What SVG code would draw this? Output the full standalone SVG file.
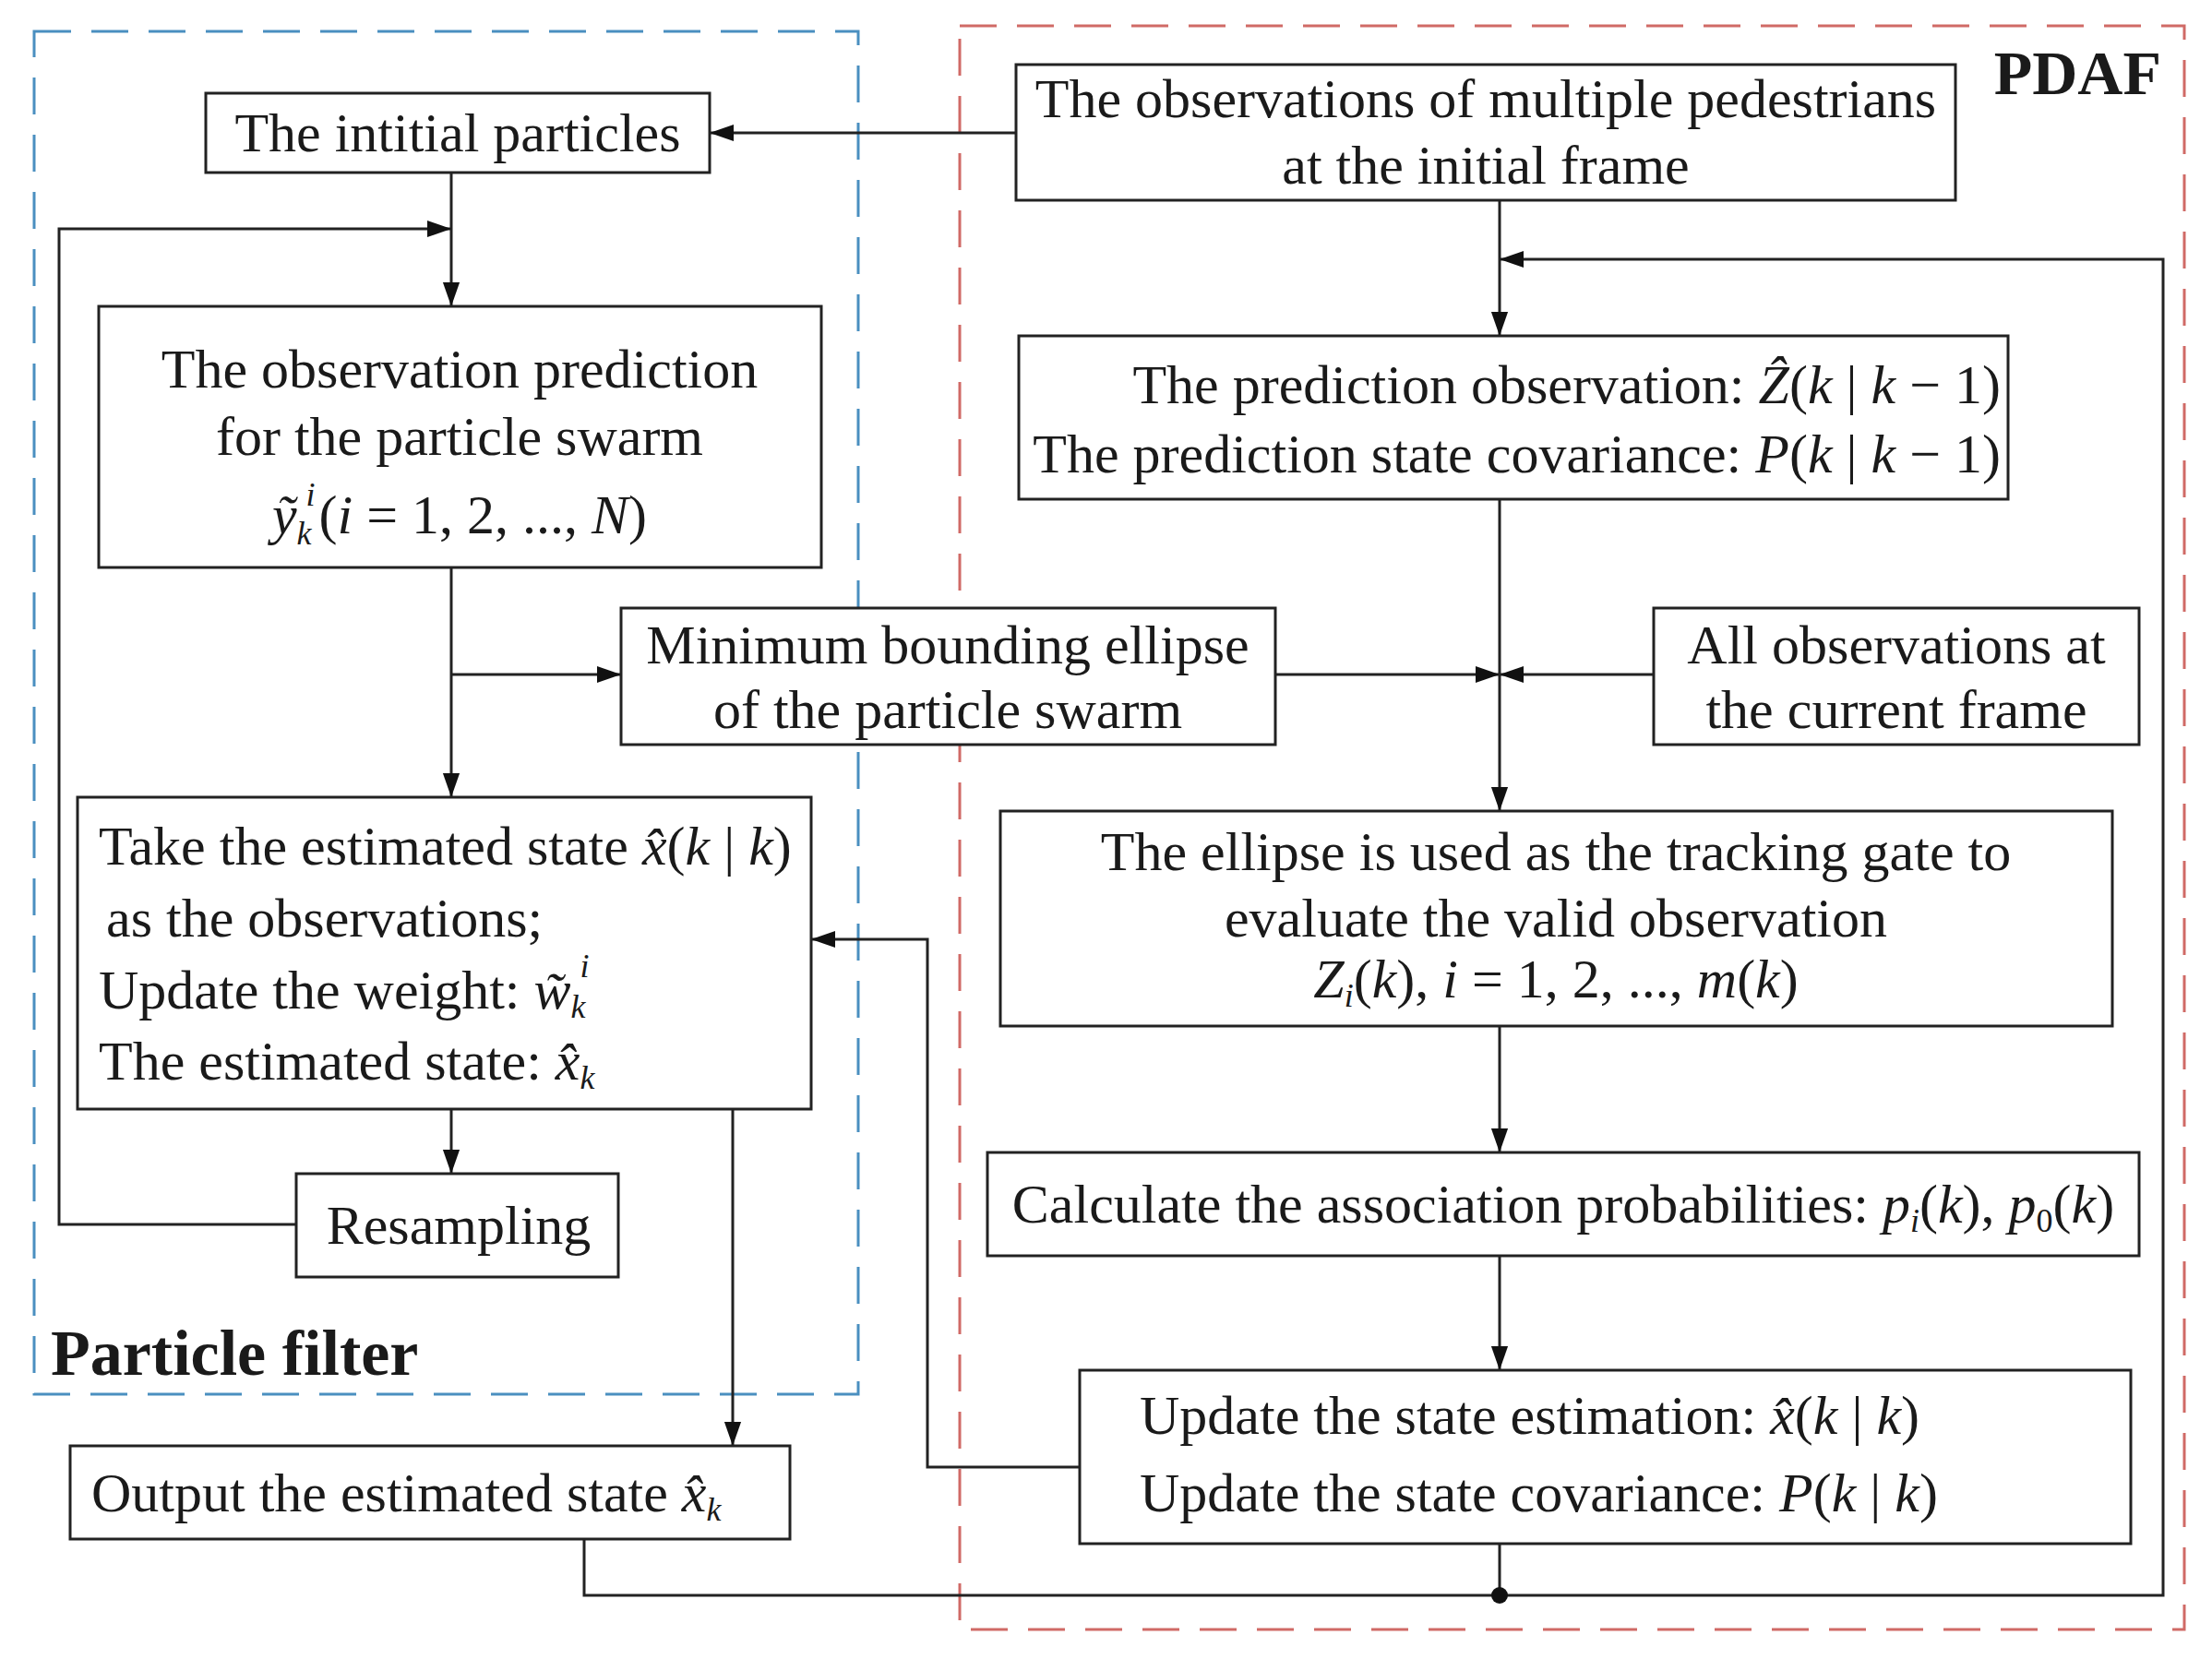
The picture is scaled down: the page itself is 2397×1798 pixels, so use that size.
<svg xmlns="http://www.w3.org/2000/svg" width="2397" height="1798" viewBox="0 0 2397 1798">
<style>
.b{fill:#fff;stroke:#222;stroke-width:3}
text{font-family:"Liberation Serif",serif;font-size:60px;fill:#1a1a1a}
.c{text-anchor:middle}
.i{font-style:italic}
.s{font-size:36px;font-style:italic}
.l{fill:none;stroke:#222;stroke-width:3}
</style>
<defs><marker id="ah" viewBox="0 0 10 10" refX="10" refY="5" markerWidth="26" markerHeight="26" markerUnits="userSpaceOnUse" orient="auto"><path d="M0,1.5L10,5L0,8.5z" fill="#111"/></marker></defs>
<rect width="2397" height="1798" fill="#fff"/>
<rect x="37" y="34" width="893" height="1477" fill="none" stroke="#4a8fc0" stroke-width="3" stroke-dasharray="40,22"/>
<rect x="1040" y="28" width="1327" height="1738" fill="none" stroke="#d06a66" stroke-width="3" stroke-dasharray="40,22"/>
<text x="2342" y="102" style="font-weight:bold;font-size:68px" text-anchor="end">PDAF</text>
<text x="55" y="1490" style="font-weight:bold;font-size:70px">Particle filter</text>
<g id="connectors" class="l">
<path d="M1101,144H769" marker-end="url(#ah)"/>
<path d="M489,187V332" marker-end="url(#ah)"/>
<path d="M321,1327H64V248H489" marker-end="url(#ah)"/>
<path d="M489,615V864" marker-end="url(#ah)"/>
<path d="M489,731H673" marker-end="url(#ah)"/>
<path d="M1382,731H1625" marker-end="url(#ah)"/>
<path d="M1792,731H1625" marker-end="url(#ah)"/>
<path d="M1625,217V364" marker-end="url(#ah)"/>
<path d="M2344,1725V281H1625" marker-end="url(#ah)"/>
<path d="M1625,541V879" marker-end="url(#ah)"/>
<path d="M1625,1112V1249" marker-end="url(#ah)"/>
<path d="M1625,1361V1485" marker-end="url(#ah)"/>
<path d="M1170,1590H1005V1018H879" marker-end="url(#ah)"/>
<path d="M489,1202V1272" marker-end="url(#ah)"/>
<path d="M794,1202V1567" marker-end="url(#ah)"/>
<path d="M633,1668V1729H2344V1725"/>
<path d="M1625,1673V1729"/>
<circle cx="1625" cy="1729" r="9" fill="#111" stroke="none"/>
</g>
<g id="n1"><rect class="b" x="223" y="101" width="546" height="86"/><text class="c" x="496" y="164">The intitial particles</text></g>
<g id="n2"><rect class="b" x="1101" y="70" width="1018" height="147"/><text class="c" x="1610" y="127">The observations of multiple pedestrians</text><text class="c" x="1610" y="199">at the initial frame</text></g>
<g id="n3"><rect class="b" x="107" y="332" width="783" height="283"/><text class="c" x="498" y="420">The observation prediction</text><text class="c" x="498" y="493">for the particle swarm</text><text class="c" x="498" y="578"><tspan class="i">ỹ</tspan><tspan class="s" dy="12">k</tspan><tspan class="s" dx="-6" dy="-42">i</tspan><tspan dx="4" dy="30">(</tspan><tspan class="i">i</tspan> = 1, 2, ..., <tspan class="i">N</tspan>)</text></g>
<g id="n4"><rect class="b" x="673" y="659" width="709" height="148"/><text class="c" x="1027" y="719">Minimum bounding ellipse</text><text class="c" x="1027" y="789">of the particle swarm</text></g>
<g id="n5"><rect class="b" x="84" y="864" width="795" height="338"/><text x="107" y="937">Take the estimated state <tspan class="i">x̂</tspan>(<tspan class="i">k</tspan> | <tspan class="i">k</tspan>)</text><text x="115" y="1015">as the observations;</text><text x="107" y="1093">Update the weight: <tspan class="i">w̃</tspan><tspan class="s" dy="10">k</tspan><tspan class="s" dx="-6" dy="-44">i</tspan></text><text x="107" y="1170">The estimated state: <tspan class="i">x̂</tspan><tspan class="s" dy="10">k</tspan></text></g>
<g id="n6"><rect class="b" x="321" y="1272" width="349" height="112"/><text class="c" x="497" y="1348">Resampling</text></g>
<g id="n7"><rect class="b" x="76" y="1567" width="780" height="101"/><text x="99" y="1638">Output the estimated state <tspan class="i">x̂</tspan><tspan class="s" dy="10">k</tspan></text></g>
<g id="n8"><rect class="b" x="1104" y="364" width="1072" height="177"/><text x="2168" y="437" text-anchor="end">The prediction observation: <tspan class="i">Ẑ</tspan>(<tspan class="i">k</tspan> | <tspan class="i">k</tspan> − 1)</text><text x="2168" y="512" text-anchor="end">The prediction state covariance: <tspan class="i">P</tspan>(<tspan class="i">k</tspan> | <tspan class="i">k</tspan> − 1)</text></g>
<g id="n9"><rect class="b" x="1792" y="659" width="526" height="148"/><text class="c" x="2055" y="719">All observations at</text><text class="c" x="2055" y="789">the current frame</text></g>
<g id="n10"><rect class="b" x="1084" y="879" width="1205" height="233"/><text class="c" x="1686" y="943">The ellipse is used as the tracking gate to</text><text class="c" x="1686" y="1015">evaluate the valid observation</text><text class="c" x="1686" y="1081"><tspan class="i">Z</tspan><tspan class="s" dy="10">i</tspan><tspan dy="-10">(</tspan><tspan class="i">k</tspan>), <tspan class="i">i</tspan> = 1, 2, ..., <tspan class="i">m</tspan>(<tspan class="i">k</tspan>)</text></g>
<g id="n11"><rect class="b" x="1070" y="1249" width="1248" height="112"/><text class="c" x="1694" y="1325">Calculate the association probabilities: <tspan class="i">p</tspan><tspan class="s" dy="10">i</tspan><tspan dy="-10">(</tspan><tspan class="i">k</tspan>), <tspan class="i">p</tspan><tspan class="s" dy="10" style="font-style:normal">0</tspan><tspan dy="-10">(</tspan><tspan class="i">k</tspan>)</text></g>
<g id="n12"><rect class="b" x="1170" y="1485" width="1139" height="188"/><text x="1235" y="1554">Update the state estimation: <tspan class="i">x̂</tspan>(<tspan class="i">k</tspan> | <tspan class="i">k</tspan>)</text><text x="1235" y="1638">Update the state covariance: <tspan class="i">P</tspan>(<tspan class="i">k</tspan> | <tspan class="i">k</tspan>)</text></g>
</svg>
